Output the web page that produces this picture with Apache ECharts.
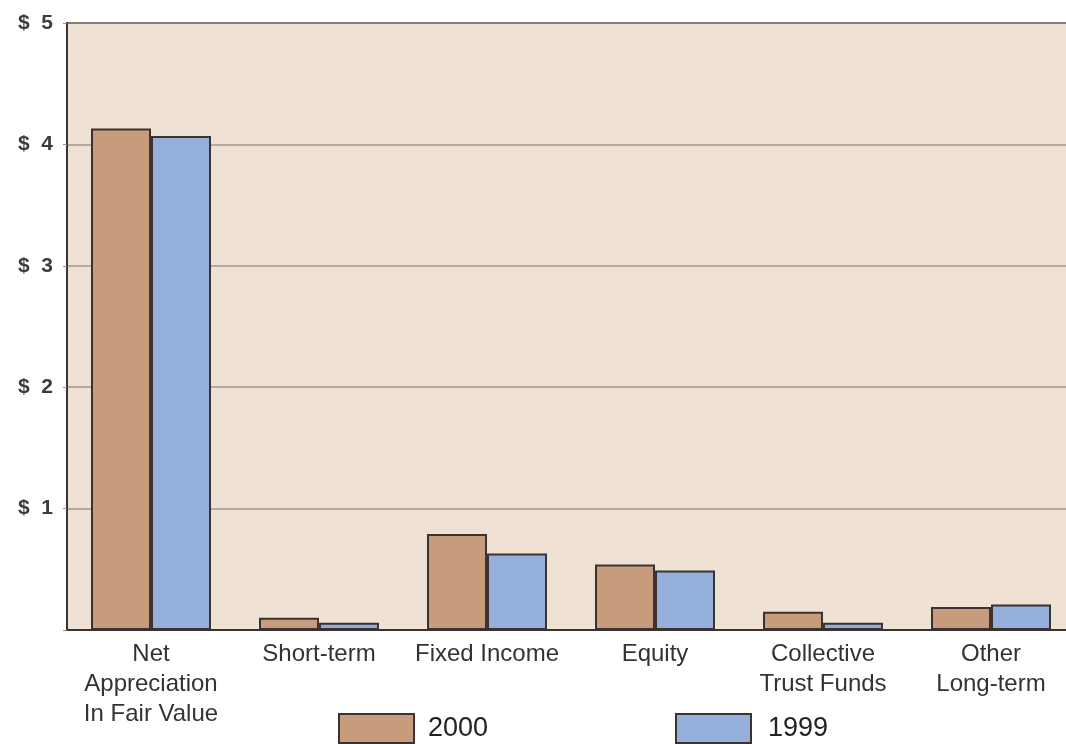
<!DOCTYPE html>
<html>
<head>
<meta charset="utf-8">
<script src="https://cdn.jsdelivr.net/npm/echarts@6/dist/echarts.min.js"></script>
<style>
  html, body { margin: 0; padding: 0; background: #ffffff; overflow: hidden; }
  /* canvas is a little wider than the window so the last category runs off the right edge */
  #chart { width: 1080px; height: 744px; }
</style>
</head>
<body>
<div id="chart"></div>
<script>
// Investment income components, in dollars (billions)
const categories = [
  'Net\nAppreciation\nIn Fair Value',
  'Short-term',
  'Fixed Income',
  'Equity',
  'Collective\nTrust Funds',
  'Other\nLong-term'
];
const values2000 = [4.13, 0.10, 0.79, 0.54, 0.15, 0.19];
const values1999 = [4.07, 0.06, 0.63, 0.49, 0.06, 0.21];
const yTicks = [0, 1, 2, 3, 4, 5];

const color2000 = '#c69c7c';
const color1999 = '#95afdc';
const edge = '#3b3232';
const font = 'Liberation Sans, Arial, sans-serif';

const chart = echarts.init(document.getElementById('chart'), null, { renderer: 'canvas' });

chart.setOption({
  animation: false,
  backgroundColor: '#ffffff',
  textStyle: { fontFamily: font },
  grid: {
    left: 67, top: 23, width: 1008, height: 607,
    show: true,
    backgroundColor: '#efe1d4',
    borderColor: edge,
    borderWidth: 2
  },
  legend: [
    {
      data: ['2000'], left: 338, top: 713, padding: 0,
      icon: 'rect', itemWidth: 75, itemHeight: 29, itemGap: 0,
      textStyle: { fontSize: 27, color: '#222222', padding: [3, 0, 0, 9], fontFamily: font },
      itemStyle: { borderColor: edge, borderWidth: 2 }
    },
    {
      data: ['1999'], left: 675, top: 713, padding: 0,
      icon: 'rect', itemWidth: 75, itemHeight: 29, itemGap: 0,
      textStyle: { fontSize: 27, color: '#222222', padding: [3, 0, 0, 12], fontFamily: font },
      itemStyle: { borderColor: edge, borderWidth: 2 }
    }
  ],
  xAxis: {
    type: 'category',
    data: categories,
    axisLine: { lineStyle: { color: edge, width: 2 } },
    axisTick: { show: false },
    axisLabel: {
      interval: 0,
      margin: 9,
      fontSize: 24,
      lineHeight: 30,
      color: '#333333'
    }
  },
  yAxis: {
    type: 'value',
    min: yTicks[0],
    max: yTicks[yTicks.length - 1],
    interval: 1,
    axisLine: { show: true, lineStyle: { color: edge, width: 2 } },
    axisTick: { show: true, length: 4, lineStyle: { color: '#9a8c82' } },
    splitLine: { lineStyle: { color: '#a39690', width: 1.5 } },
    axisLabel: {
      margin: 14,
      fontSize: 21,
      fontWeight: 'bold',
      color: '#3c3c3c',
      formatter: v => (v === 0 ? '' : '$  ' + v)
    }
  },
  series: [
    {
      name: '2000', type: 'bar', data: values2000,
      barWidth: 60, barGap: '0%',
      itemStyle: { color: color2000, borderColor: edge, borderWidth: 2 }
    },
    {
      name: '1999', type: 'bar', data: values1999,
      barWidth: 60, barGap: '0%',
      itemStyle: { color: color1999, borderColor: edge, borderWidth: 2 }
    }
  ]
});
</script>
</body>
</html>
